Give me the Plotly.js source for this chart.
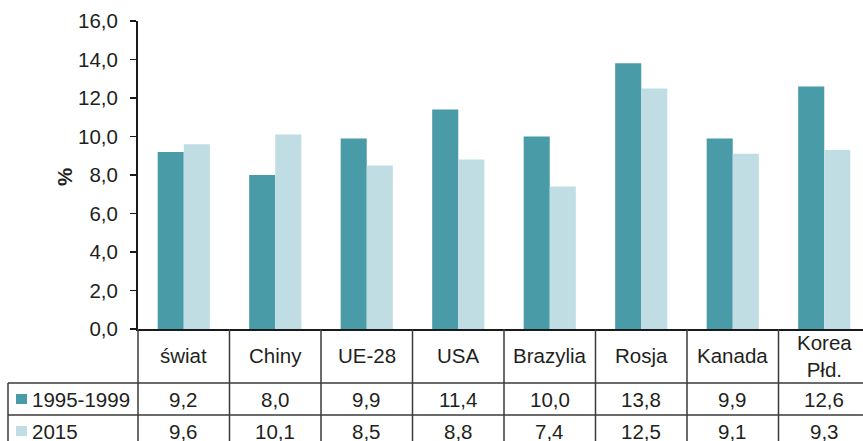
<!DOCTYPE html>
<html>
<head>
<meta charset="utf-8">
<script src="https://cdn.plot.ly/plotly-3.0.1.min.js"></script>
<style>html,body{margin:0;padding:0;overflow:hidden;background:#fff}</style>
</head>
<body>
<div id="chart" style="width:863px;height:441px"></div>
<script>
const categories = ["świat", "Chiny", "UE-28", "USA", "Brazylia", "Rosja", "Kanada", "Korea<br>Płd."];
const seriesNames = ["1995-1999", "2015"];
const values1995 = [9.2, 8.0, 9.9, 11.4, 10.0, 13.8, 9.9, 12.6];
const values2015 = [9.6, 10.1, 8.5, 8.8, 7.4, 12.5, 9.1, 9.3];
const yTicks = [0, 2, 4, 6, 8, 10, 12, 14, 16];

const colors = ["#4A9BA8", "#C0DDE3"];
const txt = "#231F20";
const lineCol = "#3a3a3a";
const fontFam = "Liberation Sans, Arial, sans-serif";
const fs = 20.5;

const W = 863, H = 441;
const mL = 138, mT = 21, mB = 112;
const plotW = W - mL, plotH = H - mT - mB;
const catW = 91.5;
const nVisible = plotW / catW;
const py = y => (mT + plotH - y) / plotH; // pixel y -> paper
const px = x => (x - mL) / plotW;          // pixel x -> paper

const idx = categories.map((c, i) => i);

const traces = [
  {type: "bar", x: idx, y: values1995, name: seriesNames[0], marker: {color: colors[0]}, hoverinfo: "skip"},
  {type: "bar", x: idx, y: values2015, name: seriesNames[1], marker: {color: colors[1]}, hoverinfo: "skip"}
];

const fmt = v => v.toFixed(1).replace(".", ",");

const rowHeaderTop = py(329), row1Top = py(383), row2Top = py(415), tableBottom = py(460);
const shapes = [];
const annotations = [];

[row1Top, row2Top].forEach(y => {
  shapes.push({type: "line", xref: "paper", yref: "paper", x0: px(8), x1: 1.01, y0: y, y1: y,
    line: {color: lineCol, width: 1.5}});
});
for (let i = 0; i < categories.length; i++) {
  shapes.push({type: "line", xref: "x", yref: "paper", x0: i + 0.5, x1: i + 0.5, y0: rowHeaderTop, y1: tableBottom,
    line: {color: lineCol, width: 1.5}});
}
shapes.push({type: "line", xref: "paper", yref: "paper", x0: 0, x1: 0, y0: rowHeaderTop, y1: tableBottom,
  line: {color: lineCol, width: 1.5}});
shapes.push({type: "line", xref: "paper", yref: "paper", x0: px(8), x1: px(8), y0: row1Top, y1: tableBottom,
  line: {color: lineCol, width: 1.5}});
[399, 431].forEach((yc, k) => {
  shapes.push({type: "rect", xref: "paper", yref: "paper", x0: px(16), x1: px(27), y0: py(yc + 5), y1: py(yc - 5),
    fillcolor: colors[k], line: {width: 0}});
  annotations.push({xref: "paper", yref: "paper", x: px(30), y: py(yc), xanchor: "left", yanchor: "middle",
    text: seriesNames[k], showarrow: false, font: {family: fontFam, size: fs, color: txt}});
});

categories.forEach((c, i) => {
  annotations.push({xref: "x", yref: "paper", x: i, y: py(356), xanchor: "center", yanchor: "middle",
    text: c, showarrow: false, font: {family: fontFam, size: fs, color: txt}});
  annotations.push({xref: "x", yref: "paper", x: i, y: py(399), xanchor: "center", yanchor: "middle",
    text: fmt(values1995[i]), showarrow: false, font: {family: fontFam, size: fs, color: txt}});
  annotations.push({xref: "x", yref: "paper", x: i, y: py(431), xanchor: "center", yanchor: "middle",
    text: fmt(values2015[i]), showarrow: false, font: {family: fontFam, size: fs, color: txt}});
});

annotations.push({xref: "paper", yref: "paper", x: px(64), y: py(177), xanchor: "center", yanchor: "middle",
  text: "%", textangle: -90, showarrow: false, font: {family: fontFam, size: fs, color: txt, weight: "bold"}});

const layout = {
  width: W, height: H,
  margin: {l: mL, r: 0, t: mT, b: mB, pad: 0},
  paper_bgcolor: "#fff", plot_bgcolor: "#fff",
  showlegend: false,
  barmode: "group", bargap: 0.43, bargroupgap: 0,
  separators: ",.",
  font: {family: fontFam, size: fs, color: txt},
  xaxis: {type: "linear", range: [-0.5, -0.5 + nVisible], showticklabels: false, ticks: "",
    showgrid: false, zeroline: false, showline: true, linecolor: "#1a1a1a", linewidth: 2, fixedrange: true},
  yaxis: {range: [0, 16], tickvals: yTicks, tickformat: ".1f", ticks: "outside", ticklen: 6, tickwidth: 1.5,
    tickcolor: "#1a1a1a", showgrid: false, zeroline: false, showline: true, linecolor: "#1a1a1a", linewidth: 2,
    ticklabelstandoff: 8, tickfont: {family: fontFam, size: fs, color: txt}, fixedrange: true},
  shapes: shapes,
  annotations: annotations
};

Plotly.newPlot("chart", traces, layout, {displayModeBar: false, staticPlot: true});
</script>
</body>
</html>
